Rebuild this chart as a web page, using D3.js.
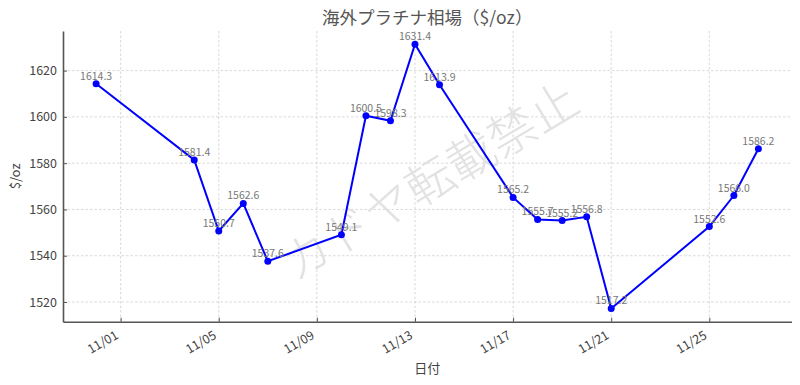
<!DOCTYPE html>
<html>
<head>
<meta charset="utf-8">
<script src="https://cdn.jsdelivr.net/npm/d3@7"></script>
<style>
  body { margin: 0; background: #fff; }
  text { font-family: "Noto Sans CJK JP", "Noto Sans", sans-serif; }
</style>
</head>
<body>
<div id="chart"></div>
<script>
'use strict';

var dates = ['2023-10-31', '2023-11-04', '2023-11-05', '2023-11-06', '2023-11-07',
             '2023-11-10', '2023-11-11', '2023-11-12', '2023-11-13', '2023-11-14',
             '2023-11-17', '2023-11-18', '2023-11-19', '2023-11-20', '2023-11-21',
             '2023-11-25', '2023-11-26', '2023-11-27'];
var prices = [1614.3, 1581.4, 1550.7, 1562.6, 1537.6,
              1549.1, 1600.5, 1598.3, 1631.4, 1613.9,
              1565.2, 1555.7, 1555.2, 1556.8, 1517.2,
              1552.6, 1566.0, 1586.2];
var xTickDates = ['2023-11-01', '2023-11-05', '2023-11-09', '2023-11-13',
                  '2023-11-17', '2023-11-21', '2023-11-25'];
var yTicks = [1520, 1540, 1560, 1580, 1600, 1620];

var width = 800, height = 385;
var margin = { top: 31, right: 8.5, bottom: 63.3, left: 63 };

var parse = d3.utcParse('%Y-%m-%d');
var data = dates.map(function(d, i) { return { date: parse(d), value: prices[i] }; });

var svg = d3.select('#chart')
            .append('svg')
            .attr('width', width)
            .attr('height', height);

// matplotlib-style 5% padding on both axes
var xExt = d3.extent(data, function(d) { return d.date; });
var xPad = (xExt[1] - xExt[0]) * 0.05;
var yExt = d3.extent(prices);
var yPad = (yExt[1] - yExt[0]) * 0.05;

var x = d3.scaleUtc()
          .domain([new Date(+xExt[0] - xPad), new Date(+xExt[1] + xPad)])
          .range([margin.left, width - margin.right]);
var y = d3.scaleLinear()
          .domain([yExt[0] - yPad, yExt[1] + yPad])
          .range([height - margin.bottom, margin.top]);

var xTicks = xTickDates.map(parse);

// grid
svg.append('g')
   .selectAll('line.vgrid')
   .data(xTicks)
   .enter().append('line')
   .attr('x1', function(d) { return x(d); })
   .attr('x2', function(d) { return x(d); })
   .attr('y1', margin.top)
   .attr('y2', height - margin.bottom)
   .attr('stroke', '#cfcfcf')
   .attr('stroke-width', 0.8)
   .attr('stroke-dasharray', '2.5,2');

svg.append('g')
   .selectAll('line.hgrid')
   .data(yTicks)
   .enter().append('line')
   .attr('x1', margin.left)
   .attr('x2', width - margin.right)
   .attr('y1', function(d) { return y(d); })
   .attr('y2', function(d) { return y(d); })
   .attr('stroke', '#cfcfcf')
   .attr('stroke-width', 0.8)
   .attr('stroke-dasharray', '2.5,2');

// watermark
svg.append('text')
   .attr('transform', 'translate(428,178) rotate(-31)')
   .attr('text-anchor', 'middle')
   .attr('dominant-baseline', 'central')
   .attr('font-size', 48)
   .attr('font-weight', 300)
   .attr('fill', '#e2e2e2')
   .text('カドヤ転載禁止');

// axes
var xAxis = svg.append('g')
   .attr('transform', 'translate(0,' + (height - margin.bottom) + ')')
   .call(d3.axisBottom(x).tickValues(xTicks).tickFormat(d3.utcFormat('%m/%d'))
           .tickSizeInner(-4).tickSizeOuter(0));
xAxis.selectAll('text')
   .attr('font-size', 12.5)
   .attr('fill', '#444')
   .attr('text-anchor', 'end')
   .attr('dy', null)
   .attr('y', 0)
   .attr('transform', function() { return 'translate(-2,16) rotate(-30)'; });

var yAxis = svg.append('g')
   .attr('transform', 'translate(' + margin.left + ',0)')
   .call(d3.axisLeft(y).tickValues(yTicks).tickFormat(d3.format('d'))
           .tickSizeInner(-4).tickSizeOuter(0).tickPadding(6));
yAxis.selectAll('text')
   .attr('font-size', 12.5)
   .attr('fill', '#444');

svg.selectAll('.domain')
   .attr('stroke', '#555')
   .attr('stroke-width', 1.6);
svg.selectAll('.tick line')
   .attr('stroke', '#555');

// axis titles
svg.append('text')
   .attr('x', (margin.left + width - margin.right) / 2)
   .attr('y', 373)
   .attr('text-anchor', 'middle')
   .attr('font-size', 13)
   .attr('fill', '#444')
   .text('日付');

svg.append('text')
   .attr('transform', 'translate(20,' + ((margin.top + height - margin.bottom) / 2) + ') rotate(-90)')
   .attr('text-anchor', 'middle')
   .attr('font-size', 13)
   .attr('fill', '#444')
   .text('$/oz');

svg.append('text')
   .attr('x', (margin.left + width - margin.right) / 2)
   .attr('y', 24)
   .attr('text-anchor', 'middle')
   .attr('font-size', 17.5)
   .attr('fill', '#555')
   .text('海外プラチナ相場（$/oz）');

// line + markers
var line = d3.line()
   .x(function(d) { return x(d.date); })
   .y(function(d) { return y(d.value); });

svg.append('path')
   .datum(data)
   .attr('d', line)
   .attr('fill', 'none')
   .attr('stroke', '#0000ff')
   .attr('stroke-width', 2);

svg.selectAll('circle.pt')
   .data(data)
   .enter().append('circle')
   .attr('cx', function(d) { return x(d.date); })
   .attr('cy', function(d) { return y(d.value); })
   .attr('r', 3.5)
   .attr('fill', '#0000ff');

svg.selectAll('text.lbl')
   .data(data)
   .enter().append('text')
   .attr('x', function(d) { return x(d.date); })
   .attr('y', function(d) { return y(d.value) - 4; })
   .attr('text-anchor', 'middle')
   .attr('font-size', 10.5)
   .attr('fill', '#777')
   .text(function(d) { return d.value.toFixed(1); });
</script>
</body>
</html>
